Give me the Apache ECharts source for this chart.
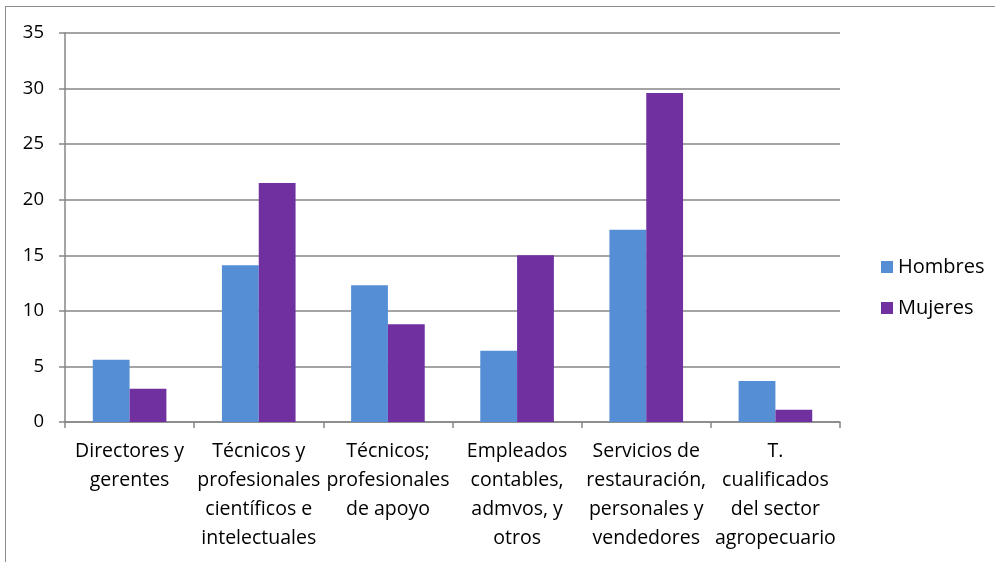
<!DOCTYPE html>
<html>
<head>
<meta charset="utf-8">
<script src="https://cdn.jsdelivr.net/npm/echarts@6/dist/echarts.min.js"></script>
<style>
  html, body { margin: 0; padding: 0; width: 995px; height: 562px; overflow: hidden; background: #fff; }
  .frame { position: absolute; left: 5px; top: 6px; width: 1000px; height: 600px; border: 1.5px solid #8c8c8c; }
  #chart { position: absolute; left: 0; top: 0; width: 995px; height: 562px; }
</style>
</head>
<body>
<div class="frame"></div>
<div id="chart"></div>
<script>
// categorías del eje X
const categorias = [
  'Directores y\ngerentes',
  'Técnicos y\nprofesionales\ncientíficos e\nintelectuales',
  'Técnicos;\nprofesionales\nde apoyo',
  'Empleados\ncontables,\nadmvos, y\notros',
  'Servicios de\nrestauración,\npersonales y\nvendedores',
  'T.\ncualificados\ndel sector\nagropecuario'
]
// valores de cada serie
const hombres = [5.6, 14.1, 12.3, 6.4, 17.3, 3.7]
const mujeres = [3.0, 21.5, 8.8, 15.0, 29.6, 1.1]

const fuente = 'Open Sans'
let mychart = echarts.init(document.getElementById('chart'))
mychart.setOption({
  animation: false,
  textStyle: { fontFamily: fuente },
  grid: { left: 65, right: 155, top: 33, bottom: 140 },
  legend: {
    orient: 'vertical',
    left: 876,
    top: 252,
    itemWidth: 12,
    itemHeight: 12,
    itemGap: 21,
    icon: 'rect',
    textStyle: { fontSize: 20, color: '#000', fontFamily: fuente },
    data: ['Hombres', 'Mujeres']
  },
  xAxis: {
    type: 'category',
    data: categorias,
    axisLine: { lineStyle: { color: '#868686', width: 1.5 } },
    axisTick: { show: true, length: 6, lineStyle: { color: '#868686', width: 1.5 } },
    axisLabel: { interval: 0, fontSize: 19.5, lineHeight: 29, color: '#000', margin: 15 }
  },
  yAxis: {
    type: 'value',
    min: 0,
    max: 35,
    interval: 5,
    axisLine: { show: true, lineStyle: { color: '#868686', width: 1.5 } },
    axisTick: { show: true, length: 6, lineStyle: { color: '#868686', width: 1.5 } },
    splitLine: { lineStyle: { color: '#868686', width: 1.5 } },
    axisLabel: { fontSize: 18.5, color: '#000', margin: 21 }
  },
  series: [
    {
      name: 'Hombres',
      type: 'bar',
      data: hombres,
      barGap: '0%',
      barCategoryGap: '43%',
      itemStyle: { color: '#558ed5' }
    },
    {
      name: 'Mujeres',
      type: 'bar',
      data: mujeres,
      itemStyle: { color: '#7030a0' }
    }
  ]
})
</script>
</body>
</html>
